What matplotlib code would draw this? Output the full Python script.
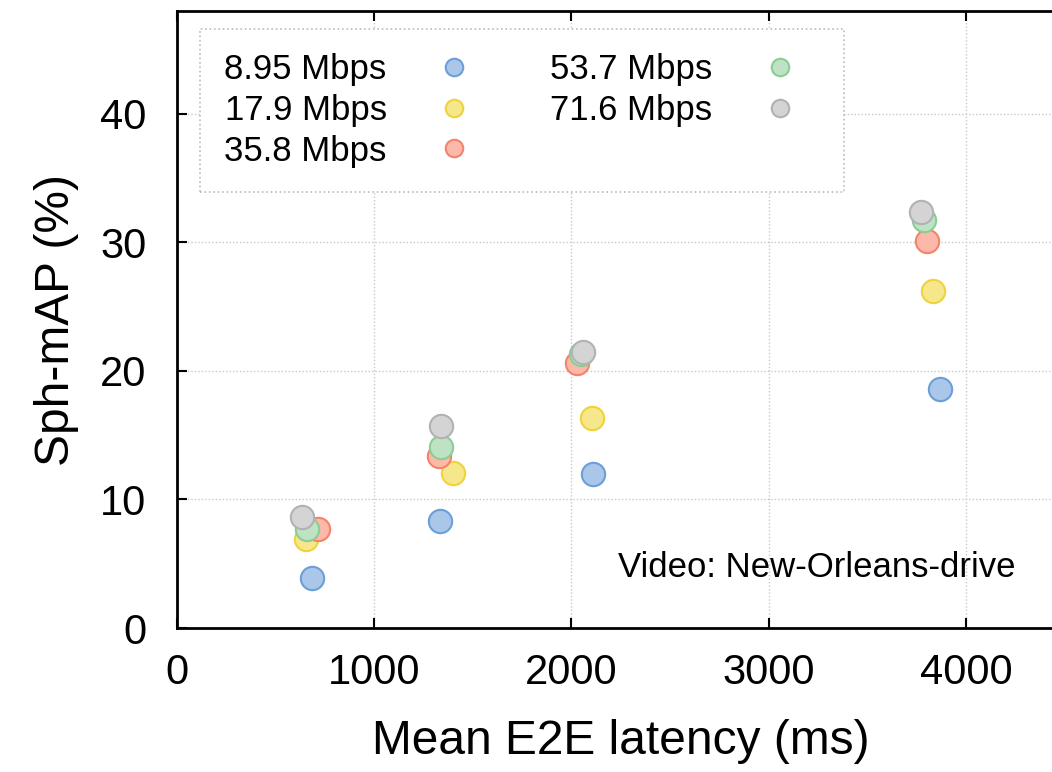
import matplotlib
matplotlib.use("Agg")
import matplotlib.pyplot as plt

plt.rcParams['font.family'] = ['Liberation Sans', 'DejaVu Sans']

# Data
series_labels = ["8.95 Mbps", "17.9 Mbps", "35.8 Mbps", "53.7 Mbps", "71.6 Mbps"]
latency_895 = [686, 1333, 2111, 3868]
map_895 = [3.86, 8.31, 11.97, 18.6]
latency_179 = [652, 1399, 2106, 3833]
map_179 = [6.89, 12.02, 16.34, 26.24]
latency_358 = [716, 1330, 2030, 3801]
map_358 = [7.67, 13.36, 20.6, 30.1]
latency_537 = [661, 1337, 2050, 3787]
map_537 = [7.67, 14.09, 21.3, 31.75]
latency_716 = [632, 1338, 2060, 3772]
map_716 = [8.65, 15.72, 21.47, 32.35]

x_ticks = [0, 1000, 2000, 3000, 4000]
y_ticks = [0, 10, 20, 30, 40]

face_colors = ["#aac6e8", "#f6e88a", "#fcb9a9", "#bde3c4", "#d4d4d4"]
edge_colors = ["#6c9fd8", "#f0d23a", "#f5826a", "#8ccc95", "#b2b2b2"]

xs = [latency_895, latency_179, latency_358, latency_537, latency_716]
ys = [map_895, map_179, map_358, map_537, map_716]

fig = plt.figure(figsize=(10.52, 7.72), dpi=100)
ax = fig.add_axes([177 / 1052, 144 / 772, 887.6 / 1052, 617 / 772])

for x, y, lab, fc, ec in zip(xs, ys, series_labels, face_colors, edge_colors):
    ax.plot(x, y, linestyle='none', marker='o', markersize=16.8,
            markerfacecolor=fc, markeredgecolor=ec, markeredgewidth=1.5,
            label=lab, zorder=3)

ax.set_xlim(0, 4500)
ax.set_ylim(0, 48)
ax.set_xticks(x_ticks)
ax.set_yticks(y_ticks)
ax.tick_params(axis='both', direction='in', length=7, width=1.5,
               labelsize=30, top=True, right=True, pad=18)
ax.tick_params(axis='y', pad=22)

ax.grid(True, linestyle=(0, (1, 1.5)), color='#c8c8c8', linewidth=1.0, zorder=0)
ax.set_axisbelow(True)

for side in ['left', 'bottom', 'top']:
    ax.spines[side].set_linewidth(2)
ax.spines['right'].set_visible(False)

ax.set_xlabel("Mean E2E latency (ms)", fontsize=34.5, labelpad=19)
ax.set_ylabel("Sph-mAP (%)", fontsize=34.5, labelpad=15)

ax.text(4253, 3.96, "Video: New-Orleans-drive", fontsize=25,
        ha='right', va='baseline')

leg = ax.legend(ncol=2, markerfirst=False, loc='upper left',
                bbox_to_anchor=(0.0259, 0.9708), borderaxespad=0,
                fontsize=25, markerscale=0.75, handletextpad=0.8,
                handlelength=2.3, columnspacing=1.6, borderpad=0.7,
                labelspacing=0.22, fancybox=False, framealpha=1,
                edgecolor='#bbbbbb')
leg.get_frame().set_linestyle(':')
leg.get_frame().set_linewidth(1.2)

fig.savefig("out.png", dpi=100)
